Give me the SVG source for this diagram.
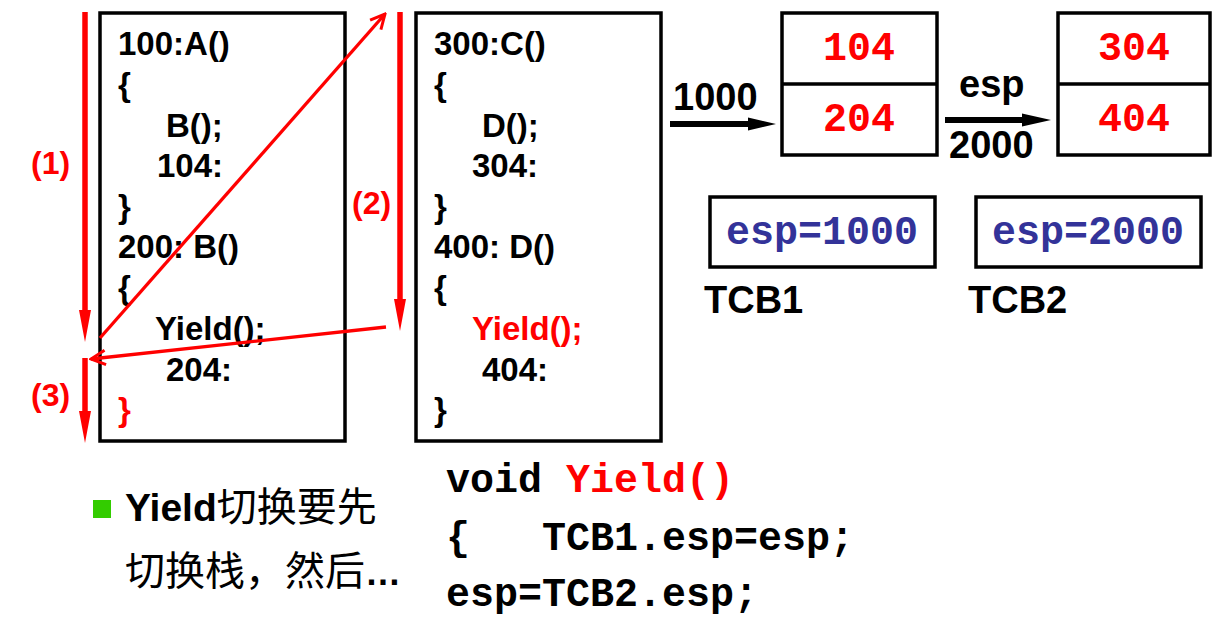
<svg xmlns="http://www.w3.org/2000/svg" width="1220" height="619" viewBox="0 0 1220 619">
<style>
.box{fill:#fff;stroke:#000;stroke-width:3.5}
.code{font-family:"Liberation Sans",Arial,sans-serif;font-weight:bold;font-size:33px;fill:#000}
.red{fill:#ff0000}
.lbl{font-family:"Liberation Sans",Arial,sans-serif;font-weight:bold;font-size:32px;fill:#ff0000}
.big{font-family:"Liberation Sans",Arial,sans-serif;font-weight:bold;font-size:38px;fill:#000}
.mono{font-family:"Liberation Mono","Courier New",monospace;font-weight:bold;font-size:40px}
.stk{fill:#ff0000;text-anchor:middle}
.tcb{fill:#333399;text-anchor:middle}
.vline{stroke:#ff0000;stroke-width:5.5;fill:none}
.thin{stroke:#ff0000;stroke-width:3.3;fill:none}
</style>
<defs>
<marker id="open" viewBox="0 0 20 20" refX="18" refY="10" markerWidth="18" markerHeight="18" markerUnits="userSpaceOnUse" orient="auto">
<path d="M2,2 L18,10 L2,18" fill="none" stroke="#ff0000" stroke-width="3.3"/>
</marker>
</defs>

<g id="codeA">
<rect class="box" x="100" y="13" width="245" height="428"/>
<text class="code" x="118" y="55">100:A()</text>
<text class="code" x="118" y="96">{</text>
<text class="code" x="166" y="137">B();</text>
<text class="code" x="157" y="177">104:</text>
<text class="code" x="118" y="218">}</text>
<text class="code" x="118" y="258">200: B()</text>
<text class="code" x="118" y="299">{</text>
<text class="code" x="155" y="340">Yield();</text>
<text class="code" x="166" y="381">204:</text>
<text class="code red" x="118" y="421">}</text>
</g>

<g id="codeC">
<rect class="box" x="416" y="13" width="245" height="428"/>
<text class="code" x="434" y="55">300:C()</text>
<text class="code" x="434" y="96">{</text>
<text class="code" x="482" y="137">D();</text>
<text class="code" x="472" y="177">304:</text>
<text class="code" x="434" y="218">}</text>
<text class="code" x="434" y="258">400: D()</text>
<text class="code" x="434" y="299">{</text>
<text class="code red" x="472" y="340">Yield();</text>
<text class="code" x="482" y="381">404:</text>
<text class="code" x="434" y="421">}</text>
</g>

<g id="stack1">
<rect class="box" x="782" y="13" width="155" height="142"/>
<line x1="782" y1="84" x2="937" y2="84" stroke="#000" stroke-width="3.5"/>
<text class="mono stk" x="859" y="60">104</text>
<text class="mono stk" x="859" y="131">204</text>
</g>

<g id="stack2">
<rect class="box" x="1058" y="13" width="152" height="142"/>
<line x1="1058" y1="84" x2="1210" y2="84" stroke="#000" stroke-width="3.5"/>
<text class="mono stk" x="1134" y="60">304</text>
<text class="mono stk" x="1134" y="131">404</text>
</g>

<g id="tcb1">
<rect class="box" x="710" y="197" width="225" height="70"/>
<text class="mono tcb" x="822" y="244">esp=1000</text>
<text class="big" x="704" y="313">TCB1</text>
</g>

<g id="tcb2">
<rect class="box" x="976" y="197" width="225" height="70"/>
<text class="mono tcb" x="1088" y="244">esp=2000</text>
<text class="big" x="968" y="313">TCB2</text>
</g>

<g id="connectors">
<line class="vline" x1="85" y1="12" x2="85" y2="314"/>
<polygon points="79,310 91,310 85,342" fill="#ff0000"/>
<line class="vline" x1="400" y1="12" x2="400" y2="302"/>
<polygon points="394,299 406,299 400,331" fill="#ff0000"/>
<line class="vline" x1="85" y1="358" x2="85" y2="415"/>
<polygon points="79,411 91,411 85,443" fill="#ff0000"/>
<line class="thin" x1="100" y1="338" x2="385" y2="14" marker-end="url(#open)"/>
<line class="thin" x1="386" y1="327" x2="91" y2="359" marker-end="url(#open)"/>
<polygon points="670,121 748,121 748,117.5 776,124 748,130.5 748,127 670,127" fill="#000"/>
<polygon points="945,117 1022,117 1022,113.5 1051,120 1022,126.5 1022,123 945,123" fill="#000"/>
</g>

<g id="labels">
<text class="lbl" x="31" y="174">(1)</text>
<text class="lbl" x="352" y="214">(2)</text>
<text class="lbl" x="31" y="406">(3)</text>
<text class="big" x="673" y="110">1000</text>
<text class="big" x="959" y="97">esp</text>
<text class="big" x="949" y="158">2000</text>
</g>

<g id="notes">
<rect x="93" y="500" width="18" height="18" fill="#33cc00"/>
<text x="125" y="521" style="font-size:39px;fill:#000"><tspan style="font-family:'Liberation Sans',Arial,sans-serif;font-weight:bold">Yield</tspan><tspan style="font-family:'Noto Sans CJK SC',sans-serif;font-size:40px">切换要先</tspan></text>
<text x="125" y="585" style="font-size:40px;fill:#000"><tspan style="font-family:'Noto Sans CJK SC',sans-serif">切换栈，然后</tspan><tspan style="font-family:'Liberation Sans',Arial,sans-serif;font-weight:bold;font-size:36px">…</tspan></text>
<text class="mono" x="446" y="492" fill="#000">void <tspan fill="#ff0000">Yield()</tspan></text>
<text class="mono" x="446" y="550" fill="#000" xml:space="preserve">{   TCB1.esp=esp;</text>
<text class="mono" x="446" y="606" fill="#000">esp=TCB2.esp;</text>
</g>
</svg>
